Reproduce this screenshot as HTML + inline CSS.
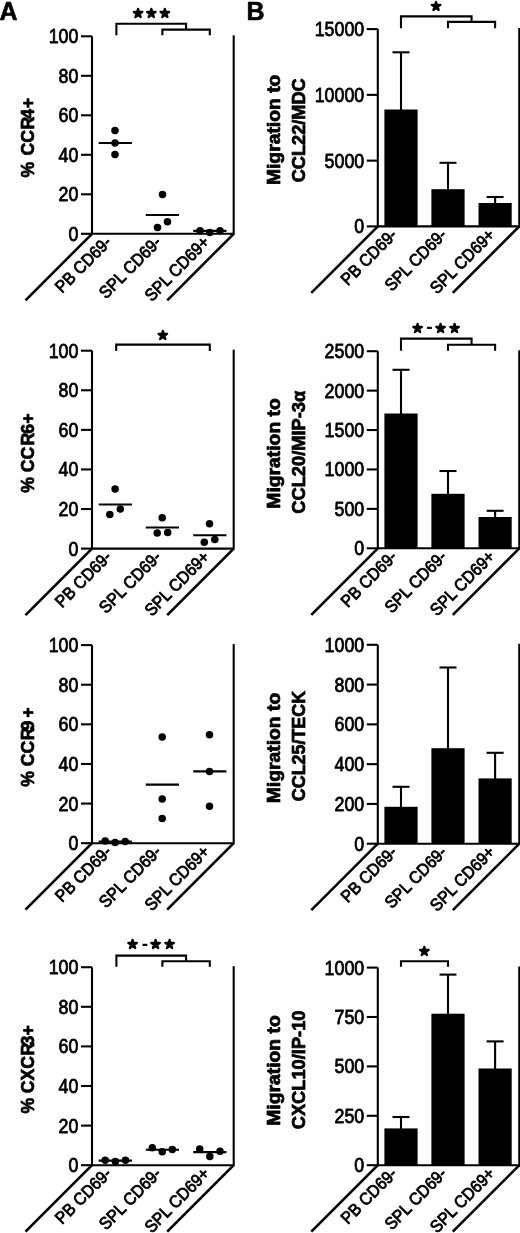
<!DOCTYPE html>
<html lang="en"><head><meta charset="utf-8"><title>Figure</title>
<style>
html,body{margin:0;padding:0;background:#fff;}
body{width:520px;height:1233px;overflow:hidden;}
svg{display:block;}
svg text{font-family:"Liberation Sans", Arial, Helvetica, sans-serif;fill:#000;}
svg text.st{font-family:"DejaVu Sans",sans-serif;}
</style></head><body>
<svg width="520" height="1233" viewBox="0 0 520 1233">
<rect x="0" y="0" width="520" height="1233" fill="#fff"/>
<polyline points="92.00,36.30 92.00,233.80 233.70,233.80" fill="none" stroke="#000" stroke-width="2.1" stroke-linejoin="miter"/>
<line x1="233.70" y1="35.30" x2="233.70" y2="234.85" stroke="#000" stroke-width="2.1" stroke-linecap="butt"/>
<line x1="92.00" y1="233.80" x2="25.50" y2="300.30" stroke="#000" stroke-width="2.6" stroke-linecap="butt"/>
<line x1="233.70" y1="233.80" x2="167.20" y2="300.30" stroke="#000" stroke-width="2.6" stroke-linecap="butt"/>
<line x1="81.00" y1="233.80" x2="92.00" y2="233.80" stroke="#000" stroke-width="2.1" stroke-linecap="butt"/>
<text transform="translate(78.40 240.80) scale(0.89 1)" font-size="20" text-anchor="end" stroke="#000" stroke-width="0.8" stroke-linejoin="round">0</text>
<line x1="81.00" y1="194.30" x2="92.00" y2="194.30" stroke="#000" stroke-width="2.1" stroke-linecap="butt"/>
<text transform="translate(78.40 201.30) scale(0.89 1)" font-size="20" text-anchor="end" stroke="#000" stroke-width="0.8" stroke-linejoin="round">20</text>
<line x1="81.00" y1="154.80" x2="92.00" y2="154.80" stroke="#000" stroke-width="2.1" stroke-linecap="butt"/>
<text transform="translate(78.40 161.80) scale(0.89 1)" font-size="20" text-anchor="end" stroke="#000" stroke-width="0.8" stroke-linejoin="round">40</text>
<line x1="81.00" y1="115.30" x2="92.00" y2="115.30" stroke="#000" stroke-width="2.1" stroke-linecap="butt"/>
<text transform="translate(78.40 122.30) scale(0.89 1)" font-size="20" text-anchor="end" stroke="#000" stroke-width="0.8" stroke-linejoin="round">60</text>
<line x1="81.00" y1="75.80" x2="92.00" y2="75.80" stroke="#000" stroke-width="2.1" stroke-linecap="butt"/>
<text transform="translate(78.40 82.80) scale(0.89 1)" font-size="20" text-anchor="end" stroke="#000" stroke-width="0.8" stroke-linejoin="round">80</text>
<line x1="81.00" y1="36.30" x2="92.00" y2="36.30" stroke="#000" stroke-width="2.1" stroke-linecap="butt"/>
<text transform="translate(78.40 43.30) scale(0.89 1)" font-size="20" text-anchor="end" stroke="#000" stroke-width="0.8" stroke-linejoin="round">100</text>
<text transform="translate(112.40 243.30) rotate(-45) scale(0.92 1)" font-size="17.2" text-anchor="end" stroke="#000" stroke-width="0.85" stroke-linejoin="round">PB CD69-</text>
<text transform="translate(162.20 243.30) rotate(-45) scale(0.92 1)" font-size="17.2" text-anchor="end" stroke="#000" stroke-width="0.85" stroke-linejoin="round">SPL CD69-</text>
<text transform="translate(210.60 243.30) rotate(-45) scale(0.92 1)" font-size="17.2" text-anchor="end" stroke="#000" stroke-width="0.85" stroke-linejoin="round">SPL CD69+</text>
<text transform="translate(34.4 177.60) rotate(-90) scale(0.93 1)" font-size="19" font-weight="bold" dx="0 0 1.6 0 0.5 -2 0.5" stroke="#000" stroke-width="0.75" stroke-linejoin="round">% CCR4+</text>
<line x1="98.70" y1="143.00" x2="131.90" y2="143.00" stroke="#000" stroke-width="2.1" stroke-linecap="butt"/>
<circle cx="115.00" cy="130.50" r="3.75" fill="#000"/>
<circle cx="115.00" cy="143.00" r="3.75" fill="#000"/>
<circle cx="115.00" cy="154.50" r="3.75" fill="#000"/>
<line x1="145.80" y1="215.00" x2="179.00" y2="215.00" stroke="#000" stroke-width="2.1" stroke-linecap="butt"/>
<circle cx="162.50" cy="194.50" r="3.75" fill="#000"/>
<circle cx="167.50" cy="221.70" r="3.75" fill="#000"/>
<circle cx="157.50" cy="227.50" r="3.75" fill="#000"/>
<line x1="193.20" y1="230.90" x2="226.40" y2="230.90" stroke="#000" stroke-width="2.1" stroke-linecap="butt"/>
<circle cx="200.00" cy="230.80" r="3.75" fill="#000"/>
<circle cx="209.70" cy="232.60" r="3.75" fill="#000"/>
<circle cx="220.00" cy="230.80" r="3.75" fill="#000"/>
<polyline points="92.00,350.70 92.00,548.60 233.70,548.60" fill="none" stroke="#000" stroke-width="2.1" stroke-linejoin="miter"/>
<line x1="233.70" y1="349.70" x2="233.70" y2="549.65" stroke="#000" stroke-width="2.1" stroke-linecap="butt"/>
<line x1="92.00" y1="548.60" x2="25.50" y2="615.10" stroke="#000" stroke-width="2.6" stroke-linecap="butt"/>
<line x1="233.70" y1="548.60" x2="167.20" y2="615.10" stroke="#000" stroke-width="2.6" stroke-linecap="butt"/>
<line x1="81.00" y1="548.60" x2="92.00" y2="548.60" stroke="#000" stroke-width="2.1" stroke-linecap="butt"/>
<text transform="translate(78.40 555.60) scale(0.89 1)" font-size="20" text-anchor="end" stroke="#000" stroke-width="0.8" stroke-linejoin="round">0</text>
<line x1="81.00" y1="509.02" x2="92.00" y2="509.02" stroke="#000" stroke-width="2.1" stroke-linecap="butt"/>
<text transform="translate(78.40 516.02) scale(0.89 1)" font-size="20" text-anchor="end" stroke="#000" stroke-width="0.8" stroke-linejoin="round">20</text>
<line x1="81.00" y1="469.44" x2="92.00" y2="469.44" stroke="#000" stroke-width="2.1" stroke-linecap="butt"/>
<text transform="translate(78.40 476.44) scale(0.89 1)" font-size="20" text-anchor="end" stroke="#000" stroke-width="0.8" stroke-linejoin="round">40</text>
<line x1="81.00" y1="429.86" x2="92.00" y2="429.86" stroke="#000" stroke-width="2.1" stroke-linecap="butt"/>
<text transform="translate(78.40 436.86) scale(0.89 1)" font-size="20" text-anchor="end" stroke="#000" stroke-width="0.8" stroke-linejoin="round">60</text>
<line x1="81.00" y1="390.28" x2="92.00" y2="390.28" stroke="#000" stroke-width="2.1" stroke-linecap="butt"/>
<text transform="translate(78.40 397.28) scale(0.89 1)" font-size="20" text-anchor="end" stroke="#000" stroke-width="0.8" stroke-linejoin="round">80</text>
<line x1="81.00" y1="350.70" x2="92.00" y2="350.70" stroke="#000" stroke-width="2.1" stroke-linecap="butt"/>
<text transform="translate(78.40 357.70) scale(0.89 1)" font-size="20" text-anchor="end" stroke="#000" stroke-width="0.8" stroke-linejoin="round">100</text>
<text transform="translate(112.40 558.10) rotate(-45) scale(0.92 1)" font-size="17.2" text-anchor="end" stroke="#000" stroke-width="0.85" stroke-linejoin="round">PB CD69-</text>
<text transform="translate(162.20 558.10) rotate(-45) scale(0.92 1)" font-size="17.2" text-anchor="end" stroke="#000" stroke-width="0.85" stroke-linejoin="round">SPL CD69-</text>
<text transform="translate(210.60 558.10) rotate(-45) scale(0.92 1)" font-size="17.2" text-anchor="end" stroke="#000" stroke-width="0.85" stroke-linejoin="round">SPL CD69+</text>
<text transform="translate(34.4 492.80) rotate(-90) scale(0.93 1)" font-size="19" font-weight="bold" dx="0 0 0 0 1.3 -1.2 0.4" stroke="#000" stroke-width="0.75" stroke-linejoin="round">% CCR6+</text>
<line x1="98.70" y1="504.50" x2="131.90" y2="504.50" stroke="#000" stroke-width="2.1" stroke-linecap="butt"/>
<circle cx="115.10" cy="489.10" r="3.75" fill="#000"/>
<circle cx="109.80" cy="514.60" r="3.75" fill="#000"/>
<circle cx="120.30" cy="509.10" r="3.75" fill="#000"/>
<line x1="145.80" y1="527.50" x2="179.00" y2="527.50" stroke="#000" stroke-width="2.1" stroke-linecap="butt"/>
<circle cx="162.20" cy="517.70" r="3.75" fill="#000"/>
<circle cx="157.20" cy="533.10" r="3.75" fill="#000"/>
<circle cx="167.70" cy="532.50" r="3.75" fill="#000"/>
<line x1="193.20" y1="535.20" x2="226.40" y2="535.20" stroke="#000" stroke-width="2.1" stroke-linecap="butt"/>
<circle cx="209.50" cy="523.80" r="3.75" fill="#000"/>
<circle cx="204.30" cy="542.30" r="3.75" fill="#000"/>
<circle cx="214.80" cy="539.50" r="3.75" fill="#000"/>
<polyline points="92.00,645.10 92.00,843.20 233.70,843.20" fill="none" stroke="#000" stroke-width="2.1" stroke-linejoin="miter"/>
<line x1="233.70" y1="644.10" x2="233.70" y2="844.25" stroke="#000" stroke-width="2.1" stroke-linecap="butt"/>
<line x1="92.00" y1="843.20" x2="25.50" y2="909.70" stroke="#000" stroke-width="2.6" stroke-linecap="butt"/>
<line x1="233.70" y1="843.20" x2="167.20" y2="909.70" stroke="#000" stroke-width="2.6" stroke-linecap="butt"/>
<line x1="81.00" y1="843.20" x2="92.00" y2="843.20" stroke="#000" stroke-width="2.1" stroke-linecap="butt"/>
<text transform="translate(78.40 850.20) scale(0.89 1)" font-size="20" text-anchor="end" stroke="#000" stroke-width="0.8" stroke-linejoin="round">0</text>
<line x1="81.00" y1="803.58" x2="92.00" y2="803.58" stroke="#000" stroke-width="2.1" stroke-linecap="butt"/>
<text transform="translate(78.40 810.58) scale(0.89 1)" font-size="20" text-anchor="end" stroke="#000" stroke-width="0.8" stroke-linejoin="round">20</text>
<line x1="81.00" y1="763.96" x2="92.00" y2="763.96" stroke="#000" stroke-width="2.1" stroke-linecap="butt"/>
<text transform="translate(78.40 770.96) scale(0.89 1)" font-size="20" text-anchor="end" stroke="#000" stroke-width="0.8" stroke-linejoin="round">40</text>
<line x1="81.00" y1="724.34" x2="92.00" y2="724.34" stroke="#000" stroke-width="2.1" stroke-linecap="butt"/>
<text transform="translate(78.40 731.34) scale(0.89 1)" font-size="20" text-anchor="end" stroke="#000" stroke-width="0.8" stroke-linejoin="round">60</text>
<line x1="81.00" y1="684.72" x2="92.00" y2="684.72" stroke="#000" stroke-width="2.1" stroke-linecap="butt"/>
<text transform="translate(78.40 691.72) scale(0.89 1)" font-size="20" text-anchor="end" stroke="#000" stroke-width="0.8" stroke-linejoin="round">80</text>
<line x1="81.00" y1="645.10" x2="92.00" y2="645.10" stroke="#000" stroke-width="2.1" stroke-linecap="butt"/>
<text transform="translate(78.40 652.10) scale(0.89 1)" font-size="20" text-anchor="end" stroke="#000" stroke-width="0.8" stroke-linejoin="round">100</text>
<text transform="translate(112.40 852.70) rotate(-45) scale(0.92 1)" font-size="17.2" text-anchor="end" stroke="#000" stroke-width="0.85" stroke-linejoin="round">PB CD69-</text>
<text transform="translate(162.20 852.70) rotate(-45) scale(0.92 1)" font-size="17.2" text-anchor="end" stroke="#000" stroke-width="0.85" stroke-linejoin="round">SPL CD69-</text>
<text transform="translate(210.60 852.70) rotate(-45) scale(0.92 1)" font-size="17.2" text-anchor="end" stroke="#000" stroke-width="0.85" stroke-linejoin="round">SPL CD69+</text>
<text transform="translate(34.4 786.80) rotate(-90) scale(0.93 1)" font-size="19" font-weight="bold" dx="0 0 0 0 0.5 -3.2 3.2" stroke="#000" stroke-width="0.75" stroke-linejoin="round">% CCR9+</text>
<line x1="98.70" y1="841.50" x2="131.90" y2="841.50" stroke="#000" stroke-width="2.1" stroke-linecap="butt"/>
<circle cx="105.20" cy="840.90" r="3.75" fill="#000"/>
<circle cx="115.10" cy="842.50" r="3.75" fill="#000"/>
<circle cx="125.20" cy="841.50" r="3.75" fill="#000"/>
<line x1="145.80" y1="784.60" x2="179.00" y2="784.60" stroke="#000" stroke-width="2.1" stroke-linecap="butt"/>
<circle cx="162.20" cy="736.90" r="3.75" fill="#000"/>
<circle cx="162.20" cy="799.00" r="3.75" fill="#000"/>
<circle cx="162.20" cy="818.50" r="3.75" fill="#000"/>
<line x1="193.20" y1="771.40" x2="226.40" y2="771.40" stroke="#000" stroke-width="2.1" stroke-linecap="butt"/>
<circle cx="209.50" cy="734.80" r="3.75" fill="#000"/>
<circle cx="209.50" cy="771.40" r="3.75" fill="#000"/>
<circle cx="209.50" cy="806.20" r="3.75" fill="#000"/>
<polyline points="92.00,967.20 92.00,1165.20 233.70,1165.20" fill="none" stroke="#000" stroke-width="2.1" stroke-linejoin="miter"/>
<line x1="233.70" y1="966.20" x2="233.70" y2="1166.25" stroke="#000" stroke-width="2.1" stroke-linecap="butt"/>
<line x1="92.00" y1="1165.20" x2="25.50" y2="1231.70" stroke="#000" stroke-width="2.6" stroke-linecap="butt"/>
<line x1="233.70" y1="1165.20" x2="167.20" y2="1231.70" stroke="#000" stroke-width="2.6" stroke-linecap="butt"/>
<line x1="81.00" y1="1165.20" x2="92.00" y2="1165.20" stroke="#000" stroke-width="2.1" stroke-linecap="butt"/>
<text transform="translate(78.40 1172.20) scale(0.89 1)" font-size="20" text-anchor="end" stroke="#000" stroke-width="0.8" stroke-linejoin="round">0</text>
<line x1="81.00" y1="1125.60" x2="92.00" y2="1125.60" stroke="#000" stroke-width="2.1" stroke-linecap="butt"/>
<text transform="translate(78.40 1132.60) scale(0.89 1)" font-size="20" text-anchor="end" stroke="#000" stroke-width="0.8" stroke-linejoin="round">20</text>
<line x1="81.00" y1="1086.00" x2="92.00" y2="1086.00" stroke="#000" stroke-width="2.1" stroke-linecap="butt"/>
<text transform="translate(78.40 1093.00) scale(0.89 1)" font-size="20" text-anchor="end" stroke="#000" stroke-width="0.8" stroke-linejoin="round">40</text>
<line x1="81.00" y1="1046.40" x2="92.00" y2="1046.40" stroke="#000" stroke-width="2.1" stroke-linecap="butt"/>
<text transform="translate(78.40 1053.40) scale(0.89 1)" font-size="20" text-anchor="end" stroke="#000" stroke-width="0.8" stroke-linejoin="round">60</text>
<line x1="81.00" y1="1006.80" x2="92.00" y2="1006.80" stroke="#000" stroke-width="2.1" stroke-linecap="butt"/>
<text transform="translate(78.40 1013.80) scale(0.89 1)" font-size="20" text-anchor="end" stroke="#000" stroke-width="0.8" stroke-linejoin="round">80</text>
<line x1="81.00" y1="967.20" x2="92.00" y2="967.20" stroke="#000" stroke-width="2.1" stroke-linecap="butt"/>
<text transform="translate(78.40 974.20) scale(0.89 1)" font-size="20" text-anchor="end" stroke="#000" stroke-width="0.8" stroke-linejoin="round">100</text>
<text transform="translate(112.40 1174.70) rotate(-45) scale(0.92 1)" font-size="17.2" text-anchor="end" stroke="#000" stroke-width="0.85" stroke-linejoin="round">PB CD69-</text>
<text transform="translate(162.20 1174.70) rotate(-45) scale(0.92 1)" font-size="17.2" text-anchor="end" stroke="#000" stroke-width="0.85" stroke-linejoin="round">SPL CD69-</text>
<text transform="translate(210.60 1174.70) rotate(-45) scale(0.92 1)" font-size="17.2" text-anchor="end" stroke="#000" stroke-width="0.85" stroke-linejoin="round">SPL CD69+</text>
<text transform="translate(34.4 1113.50) rotate(-90) scale(0.93 1)" font-size="19" font-weight="bold" dx="0 0 -0.5 0 0 0.5 -2.8 0" stroke="#000" stroke-width="0.75" stroke-linejoin="round">% CXCR3+</text>
<line x1="98.70" y1="1160.60" x2="131.90" y2="1160.60" stroke="#000" stroke-width="2.1" stroke-linecap="butt"/>
<circle cx="105.20" cy="1160.30" r="3.75" fill="#000"/>
<circle cx="115.40" cy="1161.50" r="3.75" fill="#000"/>
<circle cx="125.50" cy="1160.30" r="3.75" fill="#000"/>
<line x1="145.80" y1="1149.80" x2="179.00" y2="1149.80" stroke="#000" stroke-width="2.1" stroke-linecap="butt"/>
<circle cx="152.30" cy="1147.70" r="3.75" fill="#000"/>
<circle cx="162.20" cy="1151.70" r="3.75" fill="#000"/>
<circle cx="172.30" cy="1149.60" r="3.75" fill="#000"/>
<line x1="193.20" y1="1152.10" x2="226.40" y2="1152.10" stroke="#000" stroke-width="2.1" stroke-linecap="butt"/>
<circle cx="199.70" cy="1149.10" r="3.75" fill="#000"/>
<circle cx="209.80" cy="1156.50" r="3.75" fill="#000"/>
<circle cx="220.00" cy="1151.30" r="3.75" fill="#000"/>
<polyline points="116.40,35.20 116.40,23.70 186.10,23.70 186.10,29.60" fill="none" stroke="#000" stroke-width="2.1" stroke-linejoin="miter"/>
<polyline points="162.40,35.20 162.40,29.60 209.80,29.60 209.80,35.20" fill="none" stroke="#000" stroke-width="2.1" stroke-linejoin="miter"/>
<text x="138.00 151.40 164.70" y="16.90" font-size="11.3" text-anchor="middle" class="st" stroke="#000" stroke-width="2.2" stroke-linejoin="round">★★★</text>
<polyline points="116.20,350.90 116.20,344.60 209.80,344.60 209.80,350.90" fill="none" stroke="#000" stroke-width="2.1" stroke-linejoin="miter"/>
<text x="162.70" y="339.20" font-size="11.3" text-anchor="middle" class="st" stroke="#000" stroke-width="2.2" stroke-linejoin="round">★</text>
<polyline points="116.40,966.80 116.40,955.60 186.10,955.60 186.10,961.20" fill="none" stroke="#000" stroke-width="2.1" stroke-linejoin="miter"/>
<polyline points="162.40,966.80 162.40,961.20 209.80,961.20 209.80,966.80" fill="none" stroke="#000" stroke-width="2.1" stroke-linejoin="miter"/>
<text x="132.60 155.50 169.50" y="948.30" font-size="11.3" text-anchor="middle" class="st" stroke="#000" stroke-width="2.2" stroke-linejoin="round">★★★</text>
<text x="145.00" y="949.60" font-size="19" font-weight="bold" text-anchor="middle">-</text>
<polyline points="377.80,29.10 377.80,226.40 519.30,226.40" fill="none" stroke="#000" stroke-width="2.1" stroke-linejoin="miter"/>
<line x1="519.30" y1="28.10" x2="519.30" y2="227.45" stroke="#000" stroke-width="2.1" stroke-linecap="butt"/>
<line x1="377.80" y1="226.40" x2="311.30" y2="292.90" stroke="#000" stroke-width="2.6" stroke-linecap="butt"/>
<line x1="519.30" y1="226.40" x2="452.80" y2="292.90" stroke="#000" stroke-width="2.6" stroke-linecap="butt"/>
<line x1="366.80" y1="226.40" x2="377.80" y2="226.40" stroke="#000" stroke-width="2.1" stroke-linecap="butt"/>
<text transform="translate(364.20 233.40) scale(0.89 1)" font-size="20" text-anchor="end" stroke="#000" stroke-width="0.8" stroke-linejoin="round">0</text>
<line x1="366.80" y1="160.63" x2="377.80" y2="160.63" stroke="#000" stroke-width="2.1" stroke-linecap="butt"/>
<text transform="translate(364.20 167.63) scale(0.89 1)" font-size="20" text-anchor="end" stroke="#000" stroke-width="0.8" stroke-linejoin="round">5000</text>
<line x1="366.80" y1="94.87" x2="377.80" y2="94.87" stroke="#000" stroke-width="2.1" stroke-linecap="butt"/>
<text transform="translate(364.20 101.87) scale(0.89 1)" font-size="20" text-anchor="end" stroke="#000" stroke-width="0.8" stroke-linejoin="round">10000</text>
<line x1="366.80" y1="29.10" x2="377.80" y2="29.10" stroke="#000" stroke-width="2.1" stroke-linecap="butt"/>
<text transform="translate(364.20 36.10) scale(0.89 1)" font-size="20" text-anchor="end" stroke="#000" stroke-width="0.8" stroke-linejoin="round">15000</text>
<text transform="translate(398.10 235.90) rotate(-45) scale(0.92 1)" font-size="17.2" text-anchor="end" stroke="#000" stroke-width="0.85" stroke-linejoin="round">PB CD69-</text>
<text transform="translate(447.80 235.90) rotate(-45) scale(0.92 1)" font-size="17.2" text-anchor="end" stroke="#000" stroke-width="0.85" stroke-linejoin="round">SPL CD69-</text>
<text transform="translate(495.90 235.90) rotate(-45) scale(0.92 1)" font-size="17.2" text-anchor="end" stroke="#000" stroke-width="0.85" stroke-linejoin="round">SPL CD69+</text>
<text transform="translate(280.20 129.85) rotate(-90)" font-size="18.0" text-anchor="middle" font-weight="bold" textLength="110.5" lengthAdjust="spacingAndGlyphs" stroke="#000" stroke-width="0.75" stroke-linejoin="round">Migration to</text>
<text transform="translate(304.60 130.25) rotate(-90)" font-size="18.2" text-anchor="middle" font-weight="bold" textLength="104.0" lengthAdjust="spacingAndGlyphs" stroke="#000" stroke-width="0.75" stroke-linejoin="round">CCL22/MDC</text>
<rect x="384.40" y="109.50" width="33.20" height="116.90" fill="#000"/>
<line x1="401.00" y1="52.30" x2="401.00" y2="110.50" stroke="#000" stroke-width="2.1" stroke-linecap="butt"/>
<line x1="392.50" y1="52.30" x2="409.50" y2="52.30" stroke="#000" stroke-width="2.1" stroke-linecap="butt"/>
<rect x="431.40" y="189.20" width="33.20" height="37.20" fill="#000"/>
<line x1="448.00" y1="162.80" x2="448.00" y2="190.20" stroke="#000" stroke-width="2.1" stroke-linecap="butt"/>
<line x1="439.50" y1="162.80" x2="456.50" y2="162.80" stroke="#000" stroke-width="2.1" stroke-linecap="butt"/>
<rect x="478.50" y="203.00" width="33.20" height="23.40" fill="#000"/>
<line x1="495.10" y1="197.00" x2="495.10" y2="204.00" stroke="#000" stroke-width="2.1" stroke-linecap="butt"/>
<line x1="486.60" y1="197.00" x2="503.60" y2="197.00" stroke="#000" stroke-width="2.1" stroke-linecap="butt"/>
<polyline points="377.80,351.20 377.80,548.30 519.30,548.30" fill="none" stroke="#000" stroke-width="2.1" stroke-linejoin="miter"/>
<line x1="519.30" y1="350.20" x2="519.30" y2="549.35" stroke="#000" stroke-width="2.1" stroke-linecap="butt"/>
<line x1="377.80" y1="548.30" x2="311.30" y2="614.80" stroke="#000" stroke-width="2.6" stroke-linecap="butt"/>
<line x1="519.30" y1="548.30" x2="452.80" y2="614.80" stroke="#000" stroke-width="2.6" stroke-linecap="butt"/>
<line x1="366.80" y1="548.30" x2="377.80" y2="548.30" stroke="#000" stroke-width="2.1" stroke-linecap="butt"/>
<text transform="translate(364.20 555.30) scale(0.89 1)" font-size="20" text-anchor="end" stroke="#000" stroke-width="0.8" stroke-linejoin="round">0</text>
<line x1="366.80" y1="508.88" x2="377.80" y2="508.88" stroke="#000" stroke-width="2.1" stroke-linecap="butt"/>
<text transform="translate(364.20 515.88) scale(0.89 1)" font-size="20" text-anchor="end" stroke="#000" stroke-width="0.8" stroke-linejoin="round">500</text>
<line x1="366.80" y1="469.46" x2="377.80" y2="469.46" stroke="#000" stroke-width="2.1" stroke-linecap="butt"/>
<text transform="translate(364.20 476.46) scale(0.89 1)" font-size="20" text-anchor="end" stroke="#000" stroke-width="0.8" stroke-linejoin="round">1000</text>
<line x1="366.80" y1="430.04" x2="377.80" y2="430.04" stroke="#000" stroke-width="2.1" stroke-linecap="butt"/>
<text transform="translate(364.20 437.04) scale(0.89 1)" font-size="20" text-anchor="end" stroke="#000" stroke-width="0.8" stroke-linejoin="round">1500</text>
<line x1="366.80" y1="390.62" x2="377.80" y2="390.62" stroke="#000" stroke-width="2.1" stroke-linecap="butt"/>
<text transform="translate(364.20 397.62) scale(0.89 1)" font-size="20" text-anchor="end" stroke="#000" stroke-width="0.8" stroke-linejoin="round">2000</text>
<line x1="366.80" y1="351.20" x2="377.80" y2="351.20" stroke="#000" stroke-width="2.1" stroke-linecap="butt"/>
<text transform="translate(364.20 358.20) scale(0.89 1)" font-size="20" text-anchor="end" stroke="#000" stroke-width="0.8" stroke-linejoin="round">2500</text>
<text transform="translate(398.10 557.80) rotate(-45) scale(0.92 1)" font-size="17.2" text-anchor="end" stroke="#000" stroke-width="0.85" stroke-linejoin="round">PB CD69-</text>
<text transform="translate(447.80 557.80) rotate(-45) scale(0.92 1)" font-size="17.2" text-anchor="end" stroke="#000" stroke-width="0.85" stroke-linejoin="round">SPL CD69-</text>
<text transform="translate(495.90 557.80) rotate(-45) scale(0.92 1)" font-size="17.2" text-anchor="end" stroke="#000" stroke-width="0.85" stroke-linejoin="round">SPL CD69+</text>
<text transform="translate(280.20 453.45) rotate(-90)" font-size="18.0" text-anchor="middle" font-weight="bold" textLength="110.5" lengthAdjust="spacingAndGlyphs" stroke="#000" stroke-width="0.75" stroke-linejoin="round">Migration to</text>
<text transform="translate(304.60 452.25) rotate(-90)" font-size="18.2" text-anchor="middle" font-weight="bold" textLength="123.0" lengthAdjust="spacingAndGlyphs" stroke="#000" stroke-width="0.75" stroke-linejoin="round">CCL20/MIP-3α</text>
<rect x="384.40" y="413.50" width="33.20" height="134.80" fill="#000"/>
<line x1="401.00" y1="369.80" x2="401.00" y2="414.50" stroke="#000" stroke-width="2.1" stroke-linecap="butt"/>
<line x1="392.50" y1="369.80" x2="409.50" y2="369.80" stroke="#000" stroke-width="2.1" stroke-linecap="butt"/>
<rect x="431.40" y="493.80" width="33.20" height="54.50" fill="#000"/>
<line x1="448.00" y1="471.00" x2="448.00" y2="494.80" stroke="#000" stroke-width="2.1" stroke-linecap="butt"/>
<line x1="439.50" y1="471.00" x2="456.50" y2="471.00" stroke="#000" stroke-width="2.1" stroke-linecap="butt"/>
<rect x="478.50" y="517.00" width="33.20" height="31.30" fill="#000"/>
<line x1="495.10" y1="510.80" x2="495.10" y2="518.00" stroke="#000" stroke-width="2.1" stroke-linecap="butt"/>
<line x1="486.60" y1="510.80" x2="503.60" y2="510.80" stroke="#000" stroke-width="2.1" stroke-linecap="butt"/>
<polyline points="377.80,644.80 377.80,843.70 519.30,843.70" fill="none" stroke="#000" stroke-width="2.1" stroke-linejoin="miter"/>
<line x1="519.30" y1="643.80" x2="519.30" y2="844.75" stroke="#000" stroke-width="2.1" stroke-linecap="butt"/>
<line x1="377.80" y1="843.70" x2="311.30" y2="910.20" stroke="#000" stroke-width="2.6" stroke-linecap="butt"/>
<line x1="519.30" y1="843.70" x2="452.80" y2="910.20" stroke="#000" stroke-width="2.6" stroke-linecap="butt"/>
<line x1="366.80" y1="843.70" x2="377.80" y2="843.70" stroke="#000" stroke-width="2.1" stroke-linecap="butt"/>
<text transform="translate(364.20 850.70) scale(0.89 1)" font-size="20" text-anchor="end" stroke="#000" stroke-width="0.8" stroke-linejoin="round">0</text>
<line x1="366.80" y1="803.92" x2="377.80" y2="803.92" stroke="#000" stroke-width="2.1" stroke-linecap="butt"/>
<text transform="translate(364.20 810.92) scale(0.89 1)" font-size="20" text-anchor="end" stroke="#000" stroke-width="0.8" stroke-linejoin="round">200</text>
<line x1="366.80" y1="764.14" x2="377.80" y2="764.14" stroke="#000" stroke-width="2.1" stroke-linecap="butt"/>
<text transform="translate(364.20 771.14) scale(0.89 1)" font-size="20" text-anchor="end" stroke="#000" stroke-width="0.8" stroke-linejoin="round">400</text>
<line x1="366.80" y1="724.36" x2="377.80" y2="724.36" stroke="#000" stroke-width="2.1" stroke-linecap="butt"/>
<text transform="translate(364.20 731.36) scale(0.89 1)" font-size="20" text-anchor="end" stroke="#000" stroke-width="0.8" stroke-linejoin="round">600</text>
<line x1="366.80" y1="684.58" x2="377.80" y2="684.58" stroke="#000" stroke-width="2.1" stroke-linecap="butt"/>
<text transform="translate(364.20 691.58) scale(0.89 1)" font-size="20" text-anchor="end" stroke="#000" stroke-width="0.8" stroke-linejoin="round">800</text>
<line x1="366.80" y1="644.80" x2="377.80" y2="644.80" stroke="#000" stroke-width="2.1" stroke-linecap="butt"/>
<text transform="translate(364.20 651.80) scale(0.89 1)" font-size="20" text-anchor="end" stroke="#000" stroke-width="0.8" stroke-linejoin="round">1000</text>
<text transform="translate(398.10 853.20) rotate(-45) scale(0.92 1)" font-size="17.2" text-anchor="end" stroke="#000" stroke-width="0.85" stroke-linejoin="round">PB CD69-</text>
<text transform="translate(447.80 853.20) rotate(-45) scale(0.92 1)" font-size="17.2" text-anchor="end" stroke="#000" stroke-width="0.85" stroke-linejoin="round">SPL CD69-</text>
<text transform="translate(495.90 853.20) rotate(-45) scale(0.92 1)" font-size="17.2" text-anchor="end" stroke="#000" stroke-width="0.85" stroke-linejoin="round">SPL CD69+</text>
<text transform="translate(280.20 748.05) rotate(-90)" font-size="18.0" text-anchor="middle" font-weight="bold" textLength="110.5" lengthAdjust="spacingAndGlyphs" stroke="#000" stroke-width="0.75" stroke-linejoin="round">Migration to</text>
<text transform="translate(304.60 746.05) rotate(-90)" font-size="18.2" text-anchor="middle" font-weight="bold" textLength="110.3" lengthAdjust="spacingAndGlyphs" stroke="#000" stroke-width="0.75" stroke-linejoin="round">CCL25/TECK</text>
<rect x="384.40" y="806.80" width="33.20" height="36.90" fill="#000"/>
<line x1="401.00" y1="786.80" x2="401.00" y2="807.80" stroke="#000" stroke-width="2.1" stroke-linecap="butt"/>
<line x1="392.50" y1="786.80" x2="409.50" y2="786.80" stroke="#000" stroke-width="2.1" stroke-linecap="butt"/>
<rect x="431.40" y="748.20" width="33.20" height="95.50" fill="#000"/>
<line x1="448.00" y1="667.50" x2="448.00" y2="749.20" stroke="#000" stroke-width="2.1" stroke-linecap="butt"/>
<line x1="439.50" y1="667.50" x2="456.50" y2="667.50" stroke="#000" stroke-width="2.1" stroke-linecap="butt"/>
<rect x="478.50" y="778.40" width="33.20" height="65.30" fill="#000"/>
<line x1="495.10" y1="752.80" x2="495.10" y2="779.40" stroke="#000" stroke-width="2.1" stroke-linecap="butt"/>
<line x1="486.60" y1="752.80" x2="503.60" y2="752.80" stroke="#000" stroke-width="2.1" stroke-linecap="butt"/>
<polyline points="377.80,967.60 377.80,1165.20 519.30,1165.20" fill="none" stroke="#000" stroke-width="2.1" stroke-linejoin="miter"/>
<line x1="519.30" y1="966.60" x2="519.30" y2="1166.25" stroke="#000" stroke-width="2.1" stroke-linecap="butt"/>
<line x1="377.80" y1="1165.20" x2="311.30" y2="1231.70" stroke="#000" stroke-width="2.6" stroke-linecap="butt"/>
<line x1="519.30" y1="1165.20" x2="452.80" y2="1231.70" stroke="#000" stroke-width="2.6" stroke-linecap="butt"/>
<line x1="366.80" y1="1165.20" x2="377.80" y2="1165.20" stroke="#000" stroke-width="2.1" stroke-linecap="butt"/>
<text transform="translate(364.20 1172.20) scale(0.89 1)" font-size="20" text-anchor="end" stroke="#000" stroke-width="0.8" stroke-linejoin="round">0</text>
<line x1="366.80" y1="1115.80" x2="377.80" y2="1115.80" stroke="#000" stroke-width="2.1" stroke-linecap="butt"/>
<text transform="translate(364.20 1122.80) scale(0.89 1)" font-size="20" text-anchor="end" stroke="#000" stroke-width="0.8" stroke-linejoin="round">250</text>
<line x1="366.80" y1="1066.40" x2="377.80" y2="1066.40" stroke="#000" stroke-width="2.1" stroke-linecap="butt"/>
<text transform="translate(364.20 1073.40) scale(0.89 1)" font-size="20" text-anchor="end" stroke="#000" stroke-width="0.8" stroke-linejoin="round">500</text>
<line x1="366.80" y1="1017.00" x2="377.80" y2="1017.00" stroke="#000" stroke-width="2.1" stroke-linecap="butt"/>
<text transform="translate(364.20 1024.00) scale(0.89 1)" font-size="20" text-anchor="end" stroke="#000" stroke-width="0.8" stroke-linejoin="round">750</text>
<line x1="366.80" y1="967.60" x2="377.80" y2="967.60" stroke="#000" stroke-width="2.1" stroke-linecap="butt"/>
<text transform="translate(364.20 974.60) scale(0.89 1)" font-size="20" text-anchor="end" stroke="#000" stroke-width="0.8" stroke-linejoin="round">1000</text>
<text transform="translate(398.10 1174.70) rotate(-45) scale(0.92 1)" font-size="17.2" text-anchor="end" stroke="#000" stroke-width="0.85" stroke-linejoin="round">PB CD69-</text>
<text transform="translate(447.80 1174.70) rotate(-45) scale(0.92 1)" font-size="17.2" text-anchor="end" stroke="#000" stroke-width="0.85" stroke-linejoin="round">SPL CD69-</text>
<text transform="translate(495.90 1174.70) rotate(-45) scale(0.92 1)" font-size="17.2" text-anchor="end" stroke="#000" stroke-width="0.85" stroke-linejoin="round">SPL CD69+</text>
<text transform="translate(280.20 1070.50) rotate(-90)" font-size="18.0" text-anchor="middle" font-weight="bold" textLength="110.5" lengthAdjust="spacingAndGlyphs" stroke="#000" stroke-width="0.75" stroke-linejoin="round">Migration to</text>
<text transform="translate(304.60 1069.90) rotate(-90)" font-size="18.2" text-anchor="middle" font-weight="bold" textLength="118.8" lengthAdjust="spacingAndGlyphs" stroke="#000" stroke-width="0.75" stroke-linejoin="round">CXCL10/IP-10</text>
<rect x="384.40" y="1128.40" width="33.20" height="36.80" fill="#000"/>
<line x1="401.00" y1="1117.00" x2="401.00" y2="1129.40" stroke="#000" stroke-width="2.1" stroke-linecap="butt"/>
<line x1="392.50" y1="1117.00" x2="409.50" y2="1117.00" stroke="#000" stroke-width="2.1" stroke-linecap="butt"/>
<rect x="431.40" y="1013.70" width="33.20" height="151.50" fill="#000"/>
<line x1="448.00" y1="974.60" x2="448.00" y2="1014.70" stroke="#000" stroke-width="2.1" stroke-linecap="butt"/>
<line x1="439.50" y1="974.60" x2="456.50" y2="974.60" stroke="#000" stroke-width="2.1" stroke-linecap="butt"/>
<rect x="478.50" y="1068.50" width="33.20" height="96.70" fill="#000"/>
<line x1="495.10" y1="1041.40" x2="495.10" y2="1069.50" stroke="#000" stroke-width="2.1" stroke-linecap="butt"/>
<line x1="486.60" y1="1041.40" x2="503.60" y2="1041.40" stroke="#000" stroke-width="2.1" stroke-linecap="butt"/>
<polyline points="401.00,28.20 401.00,16.40 471.55,16.40 471.55,21.90" fill="none" stroke="#000" stroke-width="2.1" stroke-linejoin="miter"/>
<polyline points="448.00,28.20 448.00,21.90 495.10,21.90 495.10,28.20" fill="none" stroke="#000" stroke-width="2.1" stroke-linejoin="miter"/>
<text x="436.00" y="10.30" font-size="11.3" text-anchor="middle" class="st" stroke="#000" stroke-width="2.2" stroke-linejoin="round">★</text>
<polyline points="401.00,350.80 401.00,338.60 471.55,338.60 471.55,344.80" fill="none" stroke="#000" stroke-width="2.1" stroke-linejoin="miter"/>
<polyline points="448.00,350.80 448.00,344.80 495.10,344.80 495.10,350.80" fill="none" stroke="#000" stroke-width="2.1" stroke-linejoin="miter"/>
<text x="417.50 440.60 454.50" y="331.50" font-size="11.3" text-anchor="middle" class="st" stroke="#000" stroke-width="2.2" stroke-linejoin="round">★★★</text>
<text x="429.40" y="332.80" font-size="19" font-weight="bold" text-anchor="middle">-</text>
<polyline points="401.00,966.80 401.00,961.20 448.00,961.20 448.00,966.80" fill="none" stroke="#000" stroke-width="2.1" stroke-linejoin="miter"/>
<text x="424.30" y="955.00" font-size="11.3" text-anchor="middle" class="st" stroke="#000" stroke-width="2.2" stroke-linejoin="round">★</text>
<text transform="translate(-0.40 19.80)" font-size="25" text-anchor="start" font-weight="bold" stroke="#000" stroke-width="0.6" stroke-linejoin="round">A</text>
<text transform="translate(246.60 19.80)" font-size="25" text-anchor="start" font-weight="bold" stroke="#000" stroke-width="0.6" stroke-linejoin="round">B</text>
</svg>
</body></html>
